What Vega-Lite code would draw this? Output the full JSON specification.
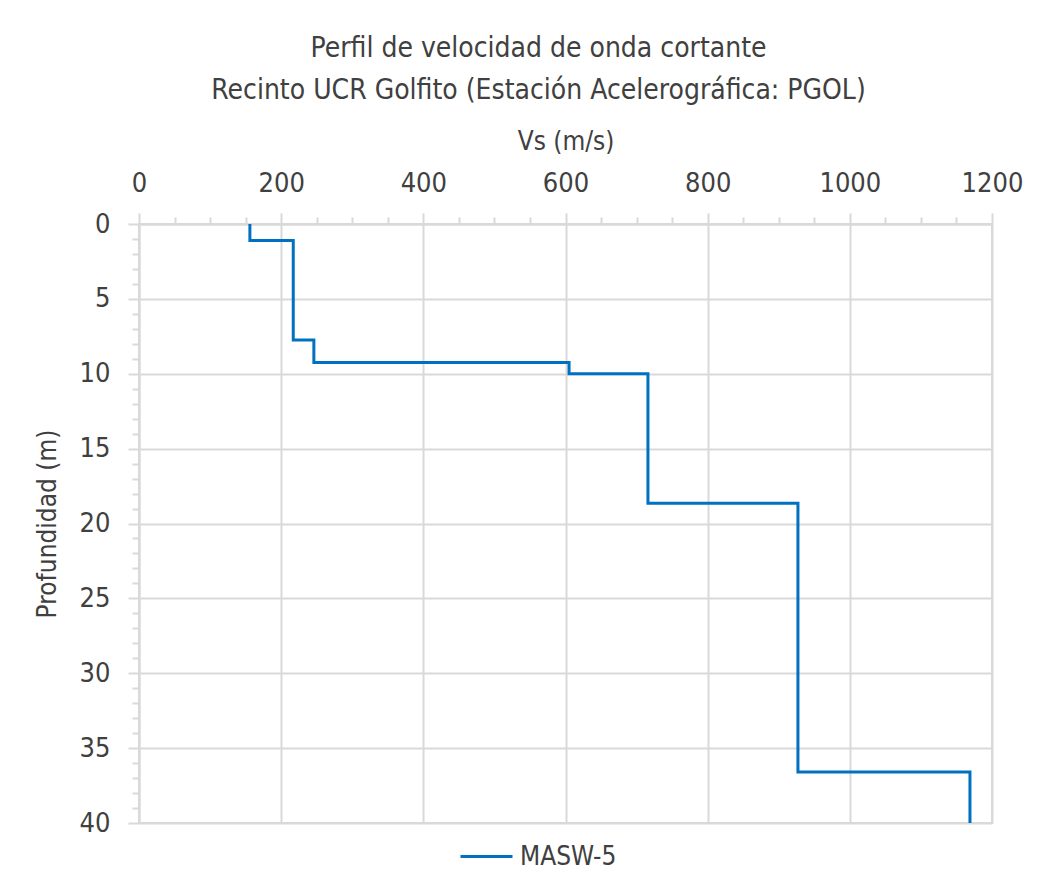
{
  "$schema": "https://vega.github.io/schema/vega-lite/v6.json",
  "autosize": "none",
  "width": 853,
  "height": 599,
  "padding": {"left": 139, "top": 224, "right": 69, "bottom": 69},
  "background": "white",
  "config": {
    "font": "Liberation Sans Narrow, DejaVu Sans Condensed, Roboto",
    "view": {"stroke": "#d9d9d9", "strokeWidth": 2},
    "axis": {"labelColor": "#404040", "titleColor": "#404040", "labelFontSize": 27, "titleFontSize": 26, "titleFontWeight": "normal", "gridColor": "#d9d9d9", "gridWidth": 2, "tickColor": "#d9d9d9", "tickWidth": 2, "domainColor": "#d9d9d9", "domainWidth": 2}
  },
  "title": {
    "text": ["Perfil de velocidad de onda cortante", "Recinto UCR Golfito (Estación Acelerográfica: PGOL)"],
    "fontSize": 28,
    "fontWeight": "normal",
    "color": "#404040",
    "anchor": "middle",
    "frame": "group",
    "dx": -27,
    "lineHeight": 42,
    "offset": 23
  },
  "data": {"values": [
    {"i": 0, "vs": 156, "depth": 0, "serie": "MASW-5"},
    {"i": 1, "vs": 156, "depth": 1.1, "serie": "MASW-5"},
    {"i": 2, "vs": 217, "depth": 1.1, "serie": "MASW-5"},
    {"i": 3, "vs": 217, "depth": 7.75, "serie": "MASW-5"},
    {"i": 4, "vs": 246, "depth": 7.75, "serie": "MASW-5"},
    {"i": 5, "vs": 246, "depth": 9.25, "serie": "MASW-5"},
    {"i": 6, "vs": 605, "depth": 9.25, "serie": "MASW-5"},
    {"i": 7, "vs": 605, "depth": 10, "serie": "MASW-5"},
    {"i": 8, "vs": 716, "depth": 10, "serie": "MASW-5"},
    {"i": 9, "vs": 716, "depth": 18.65, "serie": "MASW-5"},
    {"i": 10, "vs": 927, "depth": 18.65, "serie": "MASW-5"},
    {"i": 11, "vs": 927, "depth": 36.6, "serie": "MASW-5"},
    {"i": 12, "vs": 1169, "depth": 36.6, "serie": "MASW-5"},
    {"i": 13, "vs": 1169, "depth": 40, "serie": "MASW-5"}
  ]},
  "resolve": {"axis": {"x": "independent", "y": "independent"}},
  "layer": [
    {
      "mark": {"type": "line", "opacity": 0, "clip": true},
      "encoding": {
        "x": {"field": "vs", "type": "quantitative", "scale": {"domain": [0, 1200], "nice": false},
          "axis": {"orient": "top", "values": [50,100,150,250,300,350,450,500,550,650,700,750,850,900,950,1050,1100,1150], "labels": false, "grid": false, "domain": false, "ticks": true, "tickSize": 7, "title": null}},
        "y": {"field": "depth", "type": "quantitative", "scale": {"domain": [0, 40], "reverse": true, "nice": false},
          "axis": {"orient": "left", "values": [1,2,3,4,6,7,8,9,11,12,13,14,16,17,18,19,21,22,23,24,26,27,28,29,31,32,33,34,36,37,38,39], "labels": false, "grid": false, "domain": false, "ticks": true, "tickSize": 7, "title": null}},
        "order": {"field": "i", "type": "quantitative"}
      }
    },
    {
      "mark": {"type": "line", "color": "#0070C0", "strokeWidth": 3, "clip": true},
      "encoding": {
        "x": {"field": "vs", "type": "quantitative", "scale": {"domain": [0, 1200], "nice": false},
          "axis": {"orient": "top", "values": [0,200,400,600,800,1000,1200], "format": "d", "grid": true, "labelFlush": false, "tickSize": 11, "labelPadding": 16, "title": "Vs (m/s)", "titlePadding": 15, "domain": true}},
        "y": {"field": "depth", "type": "quantitative", "scale": {"domain": [0, 40], "reverse": true, "nice": false},
          "axis": {"orient": "left", "values": [0,5,10,15,20,25,30,35,40], "format": "d", "grid": true, "labelFlush": false, "tickSize": 11, "labelPadding": 18, "title": "Profundidad (m)", "titlePadding": 19, "domain": true}},
        "order": {"field": "i", "type": "quantitative"},
        "color": {"field": "serie", "type": "nominal", "scale": {"range": ["#0070C0"]},
          "legend": {"title": null, "orient": "none", "legendX": 320, "legendY": 605, "symbolType": "stroke", "symbolSize": 2704, "symbolStrokeWidth": 3, "labelFontSize": 26, "labelColor": "#404040", "labelOffset": 6}}
      }
    }
  ]
}
